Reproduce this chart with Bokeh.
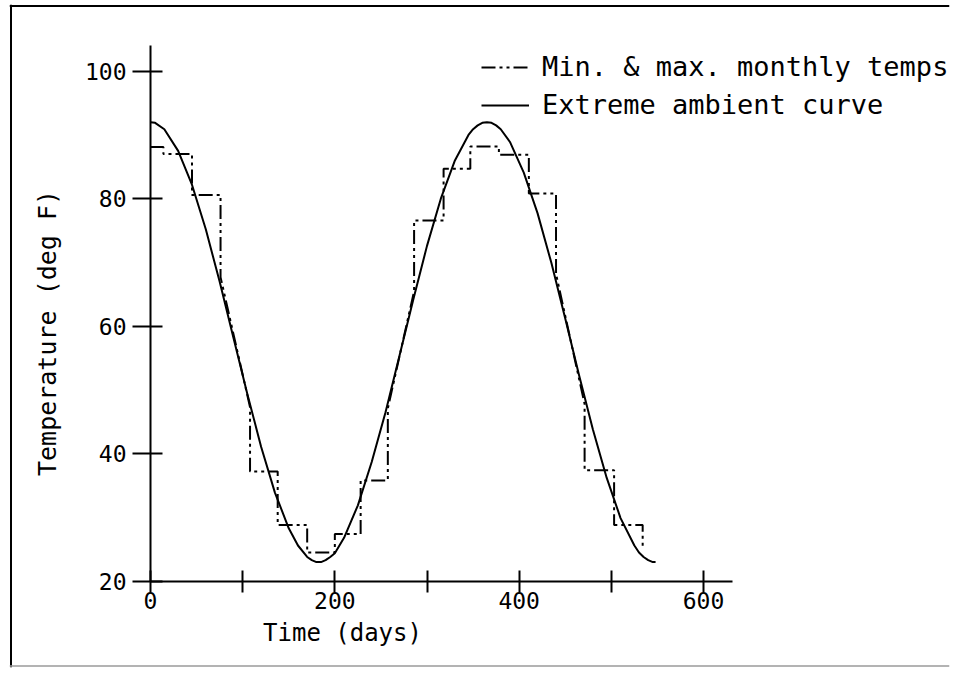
import math
from bokeh.plotting import figure
from bokeh.models import LinearAxis, FixedTicker, Range1d, Label, Legend, LegendItem, Span
from bokeh.embed import file_html
from bokeh.resources import INLINE

# ---------------- data ----------------
curve_days = [0, 5, 15, 30, 45, 60, 75, 90, 105, 120, 135, 150, 160, 170, 175, 180,
              185, 190, 195, 200, 210, 225, 240, 255, 270, 285, 300, 315, 330, 345,
              350, 355, 360, 365, 370, 375, 380, 390, 405, 420, 435, 450, 465, 480,
              495, 510, 525, 530, 535, 540, 545, 548]
curve_temps = [92.0, 91.9, 90.9, 87.5, 82.2, 75.2, 67.0, 58.2, 49.4, 41.1, 33.9,
               28.3, 25.6, 23.8, 23.3, 23.0, 23.0, 23.3, 23.8, 24.4, 26.8, 31.9,
               38.7, 46.5, 55.3, 64.1, 72.6, 80.0, 85.9, 90.0, 90.9, 91.5, 91.9,
               92.0, 91.9, 91.5, 90.9, 88.9, 84.1, 77.7, 69.9, 61.2, 52.3, 43.8,
               36.2, 29.9, 25.6, 24.5, 23.8, 23.3, 23.0, 23.0]

step_days = [0, 14, 14, 45, 45, 76, 76, 108, 108, 138, 138, 170, 170, 200, 200,
             228, 228, 257.5, 257.5, 286, 286, 318, 318, 347, 347, 378, 378,
             410.5, 410.5, 440, 440, 471, 471, 503, 503, 534, 534]
step_temps = [88.1, 88.1, 87.0, 87.0, 80.6, 80.6, 67.7, 47.3, 37.2, 37.2, 28.8,
              28.8, 24.5, 24.5, 27.4, 27.4, 35.8, 35.8, 47.1, 65.5, 76.6, 76.6,
              84.7, 84.7, 88.2, 88.2, 86.9, 86.9, 80.8, 80.8, 68.2, 47.8, 37.4,
              37.4, 28.8, 28.8, 25.3]

x_major_ticks = [0, 200, 400, 600]
x_minor_ticks = [100, 300, 500]
y_ticks = [20, 40, 60, 80, 100]
x_axis_bounds = (0, 632)
y_axis_bounds = (20, 104)

series_labels = ["Min. & max. monthly temps", "Extreme ambient curve"]
x_title = "Time (days)"
y_title = "Temperature (deg F)"

# ---------------- layout ----------------
FONT = "DejaVu Sans Mono"
W, H = 950, 670
KX = 553.0 / 600.0          # px per day
KY = 510.0 / 80.0           # px per degree
OX, OY = 150.0, 580.7       # canvas position of (0 days, 20 F)
F_L, F_T, F_R, F_B = 9.0, 4.0, W - 1.0, H - 3.0   # frame edges on the canvas

x_start = (F_L - OX) / KX
x_end = (F_R - OX) / KX
y_end = 20 + (OY - F_T) / KY
y_start = 20 - (F_B - OY) / KY

def dx(px):
    return (px - OX) / KX

def dy(py):
    return 20 + (OY - py) / KY

p = figure(width=W, height=H,
           x_range=Range1d(x_start, x_end), y_range=Range1d(y_start, y_end),
           x_axis_type=None, y_axis_type=None,
           output_backend="svg", toolbar_location=None,
           min_border_left=int(F_L), min_border_right=int(W - F_R),
           min_border_top=int(F_T), min_border_bottom=int(H - F_B))
p.grid.visible = False
p.outline_line_color = None
p.background_fill_color = "white"
p.border_fill_color = "white"

# page frame of the scanned figure
p.add_layout(Span(location=dy(5.5), dimension="width", line_color="black", line_width=2))
p.add_layout(Span(location=dx(10.5), dimension="height", line_color="black", line_width=2))
p.add_layout(Span(location=dy(665.5), dimension="width", line_color="#9a9a9a", line_width=1.5))

xaxis = LinearAxis(fixed_location=20, bounds=x_axis_bounds,
                   ticker=FixedTicker(ticks=x_major_ticks, minor_ticks=x_minor_ticks))
yaxis = LinearAxis(fixed_location=0, bounds=y_axis_bounds,
                   ticker=FixedTicker(ticks=y_ticks, minor_ticks=[]))
for ax in (xaxis, yaxis):
    ax.axis_line_width = 2
    ax.axis_line_color = "black"
    ax.major_tick_line_width = 2
    ax.major_tick_line_color = "black"
    ax.minor_tick_line_width = 2
    ax.minor_tick_line_color = "black"
    ax.major_label_text_font = FONT
    ax.major_label_text_font_size = "23px"
    ax.major_label_text_color = "black"
xaxis.major_tick_in = 11
xaxis.major_tick_out = 11
xaxis.minor_tick_in = 11
xaxis.minor_tick_out = 11
xaxis.major_label_standoff = 0
yaxis.major_tick_in = 12
yaxis.major_tick_out = 18
yaxis.minor_tick_in = 0
yaxis.minor_tick_out = 0
yaxis.major_label_standoff = 6
p.add_layout(xaxis, "below")
p.add_layout(yaxis, "left")

r_step = p.line(step_days, step_temps, line_color="black", line_width=2,
                line_dash="14 4 3 4 3 4")
r_curve = p.line(curve_days, curve_temps, line_color="black", line_width=2)

leg_left, leg_top = 481.0, 47.7
legend = Legend(items=[LegendItem(label=series_labels[0], renderers=[r_step]),
                       LegendItem(label=series_labels[1], renderers=[r_curve])],
                location=(leg_left - F_L, F_B - (leg_top + 76)), orientation="vertical",
                glyph_width=48, glyph_height=38, label_height=38, label_standoff=13,
                spacing=0, padding=0, margin=0,
                border_line_color=None, background_fill_alpha=0,
                label_text_font=FONT, label_text_font_size="27px",
                label_text_color="black")
p.add_layout(legend, "center")

p.add_layout(Label(x=dx(342), y=dy(632), text=x_title,
                   text_align="center", text_baseline="middle",
                   text_font=FONT, text_font_size="24px", text_color="black"))
p.add_layout(Label(x=dx(47), y=dy(332.5), text=y_title,
                   angle=math.pi / 2, text_align="center", text_baseline="middle",
                   text_font=FONT, text_font_size="25px", text_color="black"))

open("out.html", "w").write(file_html(p, INLINE))
